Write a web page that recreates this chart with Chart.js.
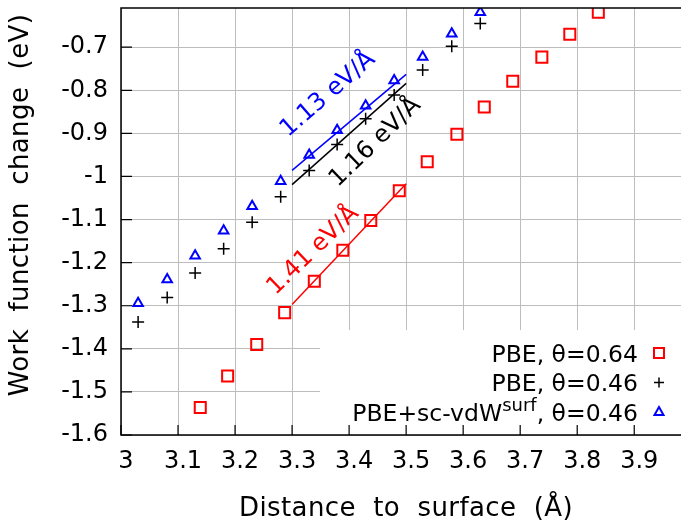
<!DOCTYPE html>
<html><head><meta charset="utf-8">
<script src="https://cdn.jsdelivr.net/npm/chart.js@4.4.1/dist/chart.umd.min.js"></script>
<style>html,body{margin:0;padding:0;background:#fff;overflow:hidden}#wrap{width:681px;height:522px;position:relative}</style>
</head><body><div id="wrap"><canvas id="c" width="681" height="522"></canvas></div>
<script>
// ---- data ----
const xTicks = [3.0, 3.1, 3.2, 3.3, 3.4, 3.5, 3.6, 3.7, 3.8, 3.9];
const yTicks = [-1.6, -1.5, -1.4, -1.3, -1.2, -1.1, -1.0, -0.9, -0.8, -0.7];

const pbe064X = [3.139, 3.187, 3.238, 3.287, 3.339, 3.389, 3.438, 3.488, 3.537, 3.589, 3.637, 3.687, 3.738, 3.787, 3.837];
const pbe064Y = [-1.536, -1.463, -1.390, -1.316, -1.243, -1.171, -1.102, -1.033, -0.966, -0.902, -0.839, -0.779, -0.723, -0.670, -0.619];

const pbe046X = [3.030, 3.081, 3.130, 3.180, 3.230, 3.280, 3.330, 3.379, 3.429, 3.479, 3.529, 3.580, 3.630];
const pbe046Y = [-1.338, -1.281, -1.224, -1.168, -1.106, -1.047, -0.986, -0.926, -0.866, -0.811, -0.753, -0.698, -0.645];

const vdwX = [3.030, 3.081, 3.130, 3.180, 3.230, 3.280, 3.330, 3.379, 3.429, 3.479, 3.529, 3.580, 3.630];
const vdwY = [-1.294, -1.239, -1.184, -1.126, -1.069, -1.011, -0.950, -0.893, -0.836, -0.777, -0.723, -0.669, -0.619];

const fitX = [3.3, 3.5];
const fitRedY = [-1.297, -1.017];
const fitBlackY = [-1.019, -0.784];
const fitBlueY = [-0.986, -0.763];

const seriesNames = ['PBE, \u03B8=0.64', 'PBE, \u03B8=0.46', 'PBE+sc-vdW', 'surf', ', \u03B8=0.46'];
const slopeLabels = ['1.41 eV/\u00C5', '1.16 eV/\u00C5', '1.13 eV/\u00C5'];
const slopeLabelX = [3.337, 3.446, 3.363];
const slopeLabelY = [-1.172, -0.921, -0.810];
const xTitle = 'Distance  to  surface  (\u00C5)';
const yTitle = 'Work  function  change  (eV)';

// ---- styling ----
const FONT = 'DejaVu Sans';
const RED = '#ff0000', BLACK = '#000000', BLUE = '#0000ff';
const pts = (xs, ys) => xs.map((x, i) => ({x: x, y: ys[i]}));

const decor = {
  id: 'decor',
  beforeDatasetsDraw(chart) {
    const ctx = chart.ctx, a = chart.chartArea;
    ctx.save();
    ctx.fillStyle = '#ffffff';
    ctx.fillRect(320, 330, a.right - 320 + 1, a.bottom - 330);
    ctx.restore();
  },
  afterDatasetsDraw(chart) {
    const ctx = chart.ctx, a = chart.chartArea;
    const xs = chart.scales.x, ys = chart.scales.y;
    ctx.save();
    // slope labels
    const cols = [RED, BLACK, BLUE];
    const angs = [-44, -44, -41];
    ctx.font = '24px "' + FONT + '"';
    ctx.textAlign = 'center';
    ctx.textBaseline = 'middle';
    for (let i = 0; i < 3; i++) {
      ctx.save();
      ctx.translate(xs.getPixelForValue(slopeLabelX[i]), ys.getPixelForValue(slopeLabelY[i]));
      ctx.rotate(angs[i] * Math.PI / 180);
      ctx.fillStyle = cols[i];
      ctx.fillText(slopeLabels[i], 0, 0);
      ctx.restore();
    }
    // border and inward ticks
    ctx.strokeStyle = '#000';
    ctx.lineWidth = 1.5;
    ctx.beginPath();
    ctx.moveTo(a.right + 2, a.top); ctx.lineTo(a.left, a.top);
    ctx.lineTo(a.left, a.bottom); ctx.lineTo(a.right + 2, a.bottom);
    ctx.stroke();
    ctx.lineWidth = 1.2;
    ctx.beginPath();
    xTicks.forEach(v => { const p = xs.getPixelForValue(v); ctx.moveTo(p, a.bottom); ctx.lineTo(p, a.bottom - 10); });
    yTicks.forEach(v => { const p = ys.getPixelForValue(v); ctx.moveTo(a.left, p); ctx.lineTo(a.left + 11, p); });
    ctx.stroke();
    ctx.restore();
  },
  afterDraw(chart) {
    const ctx = chart.ctx;
    ctx.save();
    ctx.fillStyle = '#000';
    // axis titles
    ctx.font = '26px "' + FONT + '"';
    if ('letterSpacing' in ctx) ctx.letterSpacing = '0.4px';
    ctx.textAlign = 'center';
    ctx.textBaseline = 'alphabetic';
    ctx.fillText(xTitle, 406, 516);
    ctx.save();
    ctx.translate(28, 205);
    ctx.rotate(-Math.PI / 2);
    ctx.fillText(yTitle, 0, 0);
    ctx.restore();
    if ('letterSpacing' in ctx) ctx.letterSpacing = '0px';
    // legend
    const fs = 23.5;
    ctx.font = fs + 'px "' + FONT + '"';
    ctx.textAlign = 'right';
    const rx = 638, rows = [353, 382.5, 412];
    ctx.fillText(seriesNames[0], rx, rows[0] + 0.364 * fs);
    ctx.fillText(seriesNames[1], rx, rows[1] + 0.364 * fs);
    // third with superscript
    const w2 = ctx.measureText(seriesNames[4]).width;
    ctx.fillText(seriesNames[4], rx, rows[2] + 0.364 * fs);
    ctx.font = '18px "' + FONT + '"';
    const ws = ctx.measureText(seriesNames[3]).width;
    ctx.fillText(seriesNames[3], rx - w2, rows[2] + 0.364 * fs - 10);
    ctx.font = fs + 'px "' + FONT + '"';
    ctx.fillText(seriesNames[2], rx - w2 - ws, rows[2] + 0.364 * fs);
    // legend markers
    const mx = 659;
    ctx.lineWidth = 2;
    ctx.strokeStyle = RED;
    ctx.strokeRect(mx - 5, rows[0] - 5, 10, 10);
    ctx.strokeStyle = BLACK; ctx.lineWidth = 1.5;
    ctx.beginPath();
    ctx.moveTo(mx - 5, rows[1]); ctx.lineTo(mx + 5, rows[1]);
    ctx.moveTo(mx, rows[1] - 5); ctx.lineTo(mx, rows[1] + 5);
    ctx.stroke();
    ctx.strokeStyle = BLUE; ctx.lineWidth = 2;
    ctx.beginPath();
    ctx.moveTo(mx, rows[2] - 5); ctx.lineTo(mx + 4.5, rows[2] + 3); ctx.lineTo(mx - 4.5, rows[2] + 3); ctx.closePath();
    ctx.stroke();
    ctx.restore();
  }
};

const fmt = v => String(Number(Number(v).toFixed(1)));

new Chart(document.getElementById('c'), {
  type: 'scatter',
  data: {
    datasets: [
      {label: 'fitRed', type: 'line', data: pts(fitX, fitRedY), borderColor: RED, borderWidth: 1.5, pointRadius: 0, fill: false},
      {label: 'fitBlack', type: 'line', data: pts(fitX, fitBlackY), borderColor: BLACK, borderWidth: 1.5, pointRadius: 0, fill: false},
      {label: 'fitBlue', type: 'line', data: pts(fitX, fitBlueY), borderColor: BLUE, borderWidth: 1.5, pointRadius: 0, fill: false},
      {label: seriesNames[0], data: pts(pbe064X, pbe064Y), pointStyle: 'rect', pointRadius: 7.8, borderColor: RED, borderWidth: 2, backgroundColor: 'rgba(0,0,0,0)'},
      {label: seriesNames[1], data: pts(pbe046X, pbe046Y), pointStyle: 'cross', pointRadius: 6, borderColor: BLACK, borderWidth: 1.5, backgroundColor: 'rgba(0,0,0,0)'},
      {label: 'PBE+sc-vdWsurf, \u03B8=0.46', data: pts(vdwX, vdwY), pointStyle: 'triangle', pointRadius: 5.5, borderColor: BLUE, borderWidth: 2, backgroundColor: 'rgba(0,0,0,0)'}
    ]
  },
  options: {
    responsive: false,
    animation: false,
    devicePixelRatio: 1,
    layout: {autoPadding: false, padding: {top: 8, left: 0, right: 0, bottom: 0}},
    plugins: {legend: {display: false}, tooltip: {enabled: false}},
    scales: {
      x: {
        type: 'linear', min: 3.0, max: 3.982,
        afterBuildTicks: s => { s.ticks = xTicks.map(v => ({value: v})); },
        afterFit: s => { s.height = 87; s.paddingLeft = 0; s.paddingRight = 0; },
        grid: {color: '#bdbdbd', lineWidth: 1, drawTicks: false},
        border: {display: false},
        ticks: {font: {family: FONT, size: 24}, color: '#000', padding: 12, labelOffset: 5, maxRotation: 0, autoSkip: false, callback: fmt}
      },
      y: {
        type: 'linear', min: -1.6, max: -0.609,
        afterBuildTicks: s => { s.ticks = yTicks.map(v => ({value: v})); },
        afterFit: s => { s.width = 121; s.paddingTop = 0; s.paddingBottom = 0; },
        grid: {color: '#bdbdbd', lineWidth: 1, drawTicks: false},
        border: {display: false},
        ticks: {font: {family: FONT, size: 24}, color: '#000', padding: 13, autoSkip: false, callback: fmt}
      }
    }
  },
  plugins: [decor]
});
</script>
</body></html>
